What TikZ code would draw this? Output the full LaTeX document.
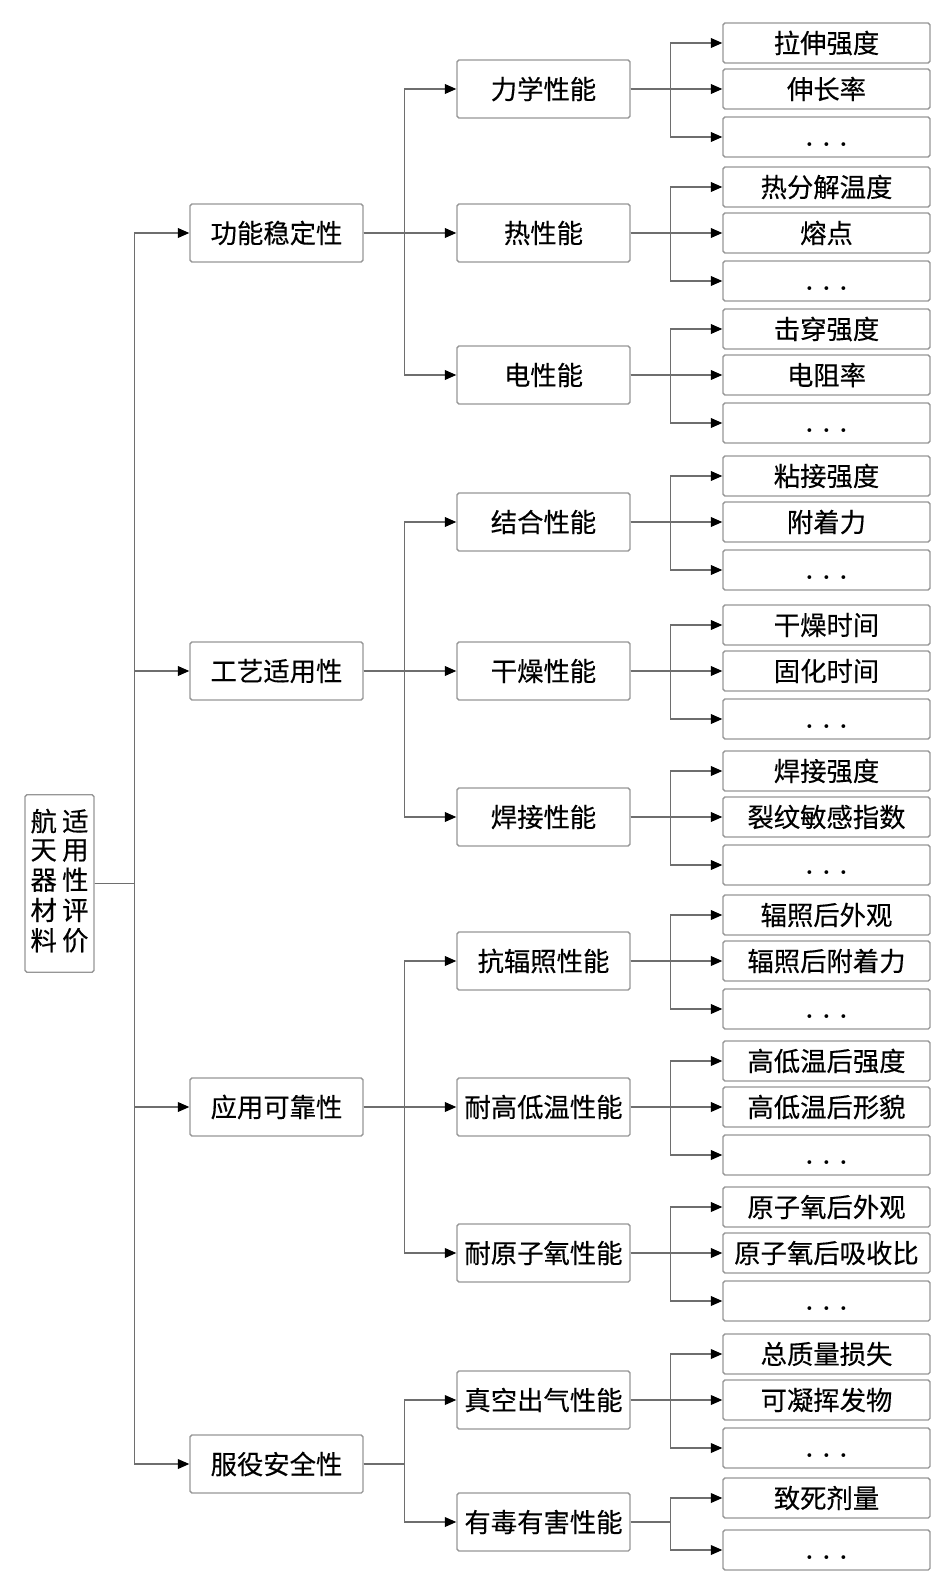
\documentclass[tikz,border=0pt]{standalone}
\usepackage{fontspec}
\usepackage{tikz}
\usetikzlibrary{arrows.meta}
\newfontfamily\cjk[FakeBold=0.3]{Noto Sans CJK SC}
\definecolor{linegray}{RGB}{110,110,110}
\definecolor{boxgray}{RGB}{150,150,150}
\newcommand{\moredots}{\vphantom{伸}\rmfamily\bfseries .\hspace{5pt}.\hspace{5pt}.}

\begin{document}
\begin{tikzpicture}[x=0.02cm,y=-0.02cm,
    box/.style={draw=boxgray,line width=0.8pt,rounded corners=1pt,inner sep=0pt,
        font=\cjk\fontsize{15}{15.3}\selectfont},
    root/.style={box,minimum width=1.38cm,minimum height=3.55cm},
    lvone/.style={box,minimum width=3.46cm,minimum height=1.16cm},
    lvtwo/.style={box,minimum width=3.46cm,minimum height=1.16cm},
    leaf/.style={box,minimum width=4.14cm,minimum height=0.8cm},
    link/.style={draw=linegray,line width=0.8pt,-{Triangle[length=6.5pt,width=5.5pt,color=black]}}]
            \useasboundingbox (0,0) rectangle (945,1594);

            \node (root) at (59.5,883.5) [root] {\renewcommand{\arraystretch}{1}%
                \begin{tabular}{@{}c@{\hspace{3pt}}c@{}}航&适\\天&用\\器&性\\材&评\\料&价\end{tabular}};

            \node (f1) at (276.5,233) [lvone] {功能稳定性};
            \node (f2) at (276.5,671) [lvone] {工艺适用性};
            \node (f3) at (276.5,1107) [lvone] {应用可靠性};
            \node (f4) at (276.5,1464) [lvone] {服役安全性};

            \node (p1) at (543.5,89) [lvtwo] {力学性能};
            \node (p2) at (543.5,233) [lvtwo] {热性能};
            \node (p3) at (543.5,375) [lvtwo] {电性能};
            \node (p4) at (543.5,522) [lvtwo] {结合性能};
            \node (p5) at (543.5,671) [lvtwo] {干燥性能};
            \node (p6) at (543.5,817) [lvtwo] {焊接性能};
            \node (p7) at (543.5,961) [lvtwo] {抗辐照性能};
            \node (p8) at (543.5,1107) [lvtwo] {耐高低温性能};
            \node (p9) at (543.5,1253) [lvtwo] {耐原子氧性能};
            \node (p10) at (543.5,1400) [lvtwo] {真空出气性能};
            \node (p11) at (543.5,1522) [lvtwo] {有毒有害性能};

            \node (p1a) at (826.5,43) [leaf] {拉伸强度};
            \node (p1b) at (826.5,89) [leaf] {伸长率};
            \node (p1c) at (826.5,137) [leaf] {\moredots};
            \node (p2a) at (826.5,187) [leaf] {热分解温度};
            \node (p2b) at (826.5,233) [leaf] {熔点};
            \node (p2c) at (826.5,281) [leaf] {\moredots};
            \node (p3a) at (826.5,329) [leaf] {击穿强度};
            \node (p3b) at (826.5,375) [leaf] {电阻率};
            \node (p3c) at (826.5,423) [leaf] {\moredots};
            \node (p4a) at (826.5,476) [leaf] {粘接强度};
            \node (p4b) at (826.5,522) [leaf] {附着力};
            \node (p4c) at (826.5,570) [leaf] {\moredots};
            \node (p5a) at (826.5,625) [leaf] {干燥时间};
            \node (p5b) at (826.5,671) [leaf] {固化时间};
            \node (p5c) at (826.5,719) [leaf] {\moredots};
            \node (p6a) at (826.5,771) [leaf] {焊接强度};
            \node (p6b) at (826.5,817) [leaf] {裂纹敏感指数};
            \node (p6c) at (826.5,865) [leaf] {\moredots};
            \node (p7a) at (826.5,915) [leaf] {辐照后外观};
            \node (p7b) at (826.5,961) [leaf] {辐照后附着力};
            \node (p7c) at (826.5,1009) [leaf] {\moredots};
            \node (p8a) at (826.5,1061) [leaf] {高低温后强度};
            \node (p8b) at (826.5,1107) [leaf] {高低温后形貌};
            \node (p8c) at (826.5,1155) [leaf] {\moredots};
            \node (p9a) at (826.5,1207) [leaf] {原子氧后外观};
            \node (p9b) at (826.5,1253) [leaf] {原子氧后吸收比};
            \node (p9c) at (826.5,1301) [leaf] {\moredots};
            \node (p10a) at (826.5,1354) [leaf] {总质量损失};
            \node (p10b) at (826.5,1400) [leaf] {可凝挥发物};
            \node (p10c) at (826.5,1448) [leaf] {\moredots};
            \node (p11a) at (826.5,1498) [leaf] {致死剂量};
            \node (p11b) at (826.5,1550) [leaf] {\moredots};

            \foreach \c in {f1,f2,f3,f4}
                \draw[link] (root.east) -- ++(40,0) |- (\c.west);
            \foreach \p/\c in {f1/p1,f1/p2,f1/p3,f2/p4,f2/p5,f2/p6,f3/p7,f3/p8,f3/p9,f4/p10,f4/p11}
                \draw[link] (\p.east) -- ++(41,0) |- (\c.west);
            \foreach \p in {1,...,10}
                \foreach \s in {a,b,c}
                    \draw[link] (p\p.east) -- ++(40,0) |- (p\p\s.west);
            \foreach \s in {a,b}
                \draw[link] (p11.east) -- ++(40,0) |- (p11\s.west);

        \end{tikzpicture}
\end{document}
